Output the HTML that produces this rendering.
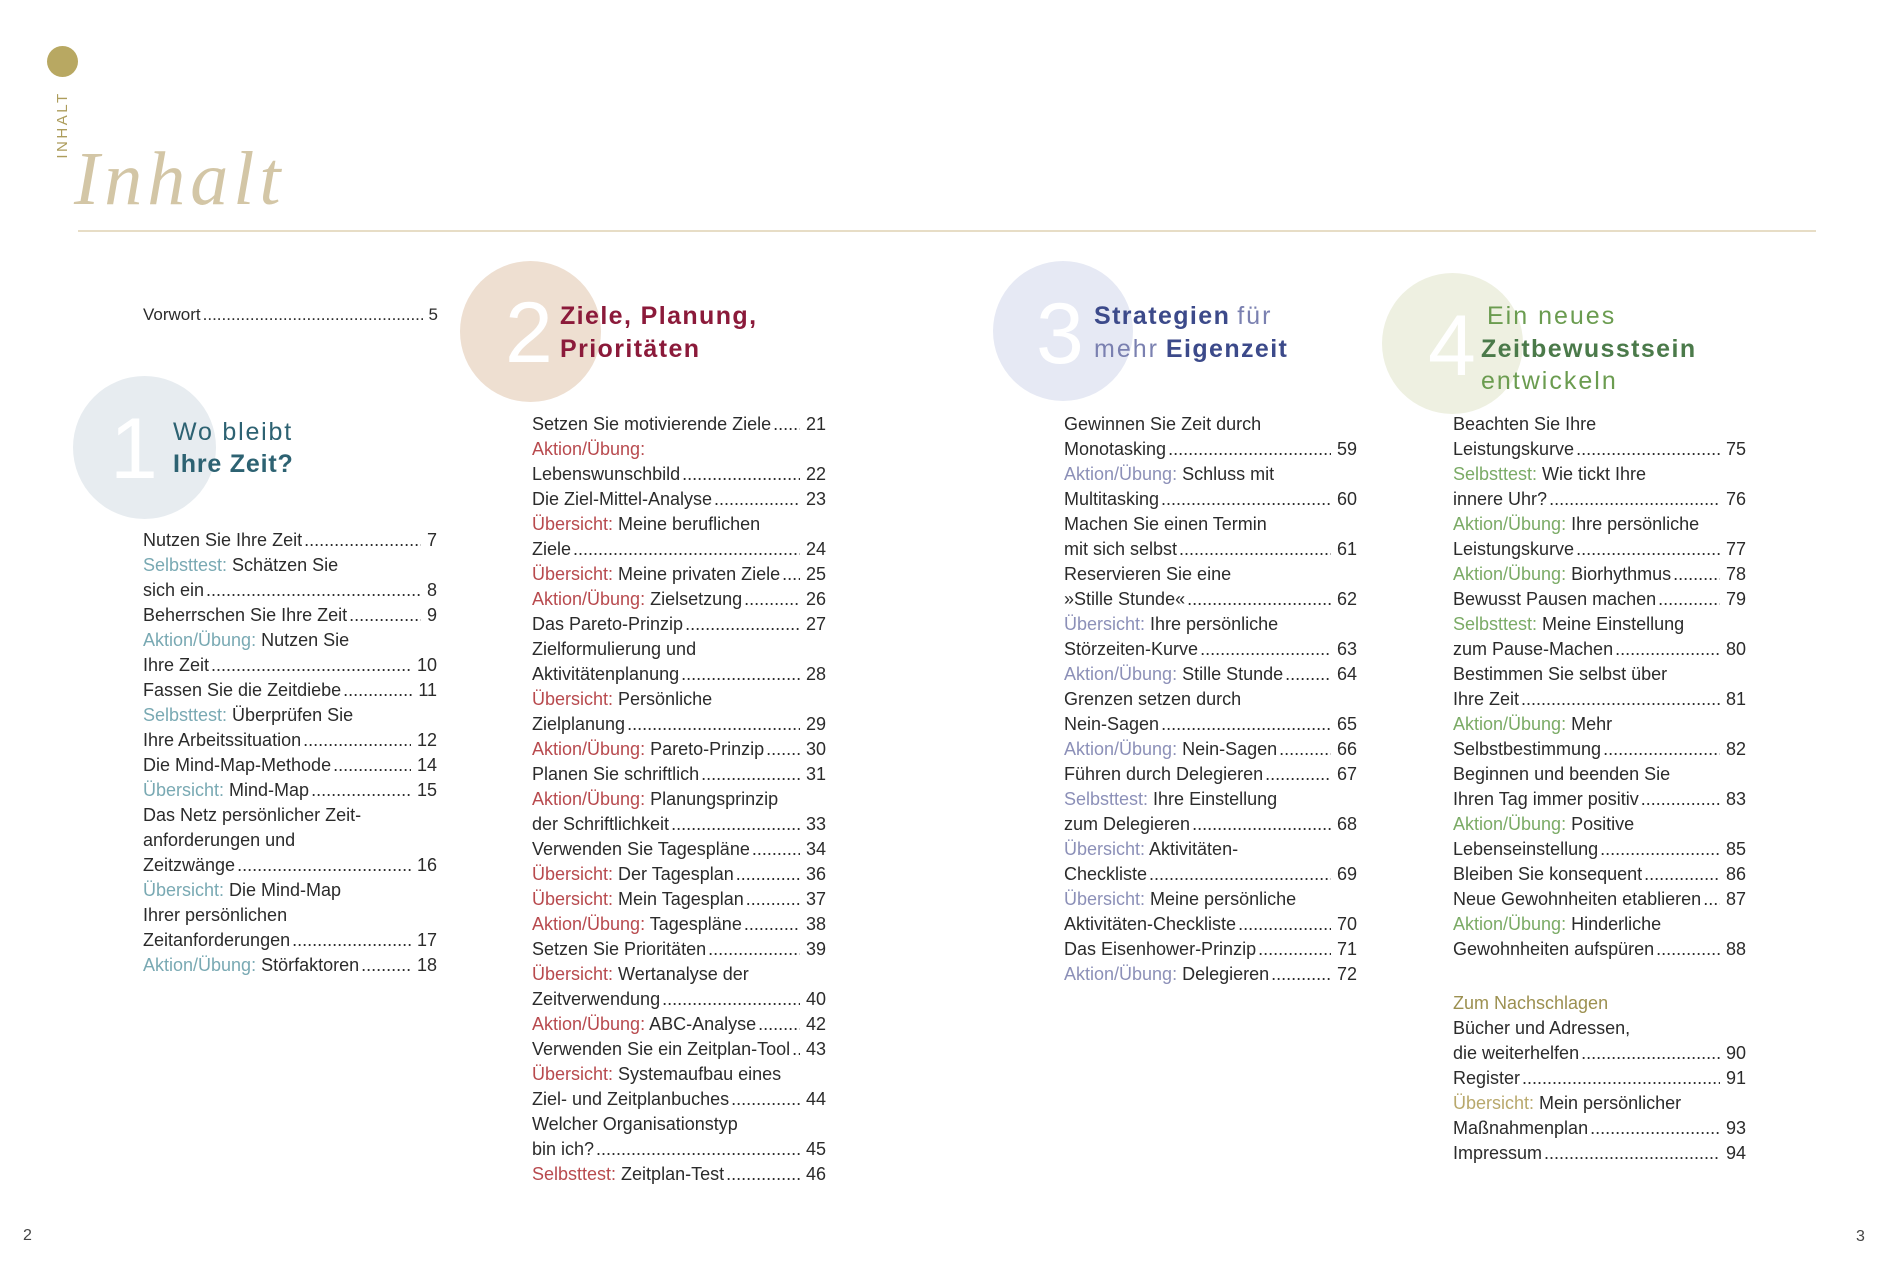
<!DOCTYPE html>
<html><head><meta charset="utf-8">
<style>
html,body{margin:0;padding:0;background:#fff;}
body{width:1889px;height:1269px;position:relative;overflow:hidden;font-family:"Liberation Sans",sans-serif;color:#2b2b2b;}
.abs{position:absolute;}
.circ{position:absolute;border-radius:50%;}
.dig{position:absolute;font-family:"Liberation Sans",sans-serif;font-size:86px;line-height:86px;color:#fff;}
.ttl{position:absolute;font-size:25px;line-height:32.5px;white-space:nowrap;}
.ttl b{font-weight:bold;letter-spacing:1.4px;}
.ttl span.lt{letter-spacing:2px;}
.col{position:absolute;width:294px;font-size:18px;line-height:25px;}
.l{height:25px;display:flex;white-space:nowrap;}
.t{flex:none;}
.d{flex:1 1 auto;overflow:hidden;min-width:0;padding-left:2px;}
.d::after{content:"..................................................................................................";}
.n{flex:none;padding-left:6px;}
.c1{color:#79a9b3;}
.c2{color:#b84a4e;}
.c3{color:#8c90b8;}
.c4{color:#7bab66;}
.c5{color:#b8a86c;}
</style></head><body>

<!-- top decoration -->
<div class="circ" style="left:47px;top:46px;width:31px;height:31px;background:#b8a862;"></div>
<div class="abs" style="left:28px;top:116px;width:70px;height:18px;line-height:18px;font-size:15px;letter-spacing:2.5px;text-align:center;color:#ad9d5c;transform:rotate(-90deg);">INHALT</div>
<div class="abs" style="left:74px;top:141px;font-family:'Liberation Serif',serif;font-style:italic;font-size:76px;line-height:76px;letter-spacing:5px;color:#d3c6a6;">Inhalt</div>
<div class="abs" style="left:78px;top:230px;width:1738px;height:2px;background:#e7ddc6;"></div>

<!-- circles -->
<div class="circ" style="left:73px;top:376px;width:143px;height:143px;background:#e7ecf0;"></div>
<div class="circ" style="left:460px;top:261px;width:141px;height:141px;background:#eedfd1;"></div>
<div class="circ" style="left:993px;top:261px;width:140px;height:140px;background:#e6e9f4;"></div>
<div class="circ" style="left:1382px;top:273px;width:141px;height:141px;background:#eef0e1;"></div>

<div class="dig" style="left:110px;top:406px;">1</div>
<div class="dig" style="left:505px;top:290px;">2</div>
<div class="dig" style="left:1036px;top:291px;">3</div>
<div class="dig" style="left:1428px;top:303px;">4</div>

<!-- titles -->
<div class="ttl" style="left:173px;top:417px;color:#2d6272;line-height:31.5px;">
<span class="lt" style="letter-spacing:1.8px;">Wo bleibt</span><br><b style="letter-spacing:0.8px;">Ihre Zeit?</b></div>
<div class="ttl" style="left:560px;top:300px;color:#8b1a3a;"><b>Ziele, Planung,</b><br><b>Prioritäten</b></div>
<div class="ttl" style="left:1094px;top:300px;color:#3c4a8a;"><b>Strategien</b> <span class="lt" style="color:#7a80b0;">für</span><br><span class="lt" style="color:#7a80b0;">mehr</span> <b>Eigenzeit</b></div>
<div class="ttl" style="left:1481px;top:300px;"><span class="lt" style="color:#6b9c50;padding-left:6px;">Ein neues</span><br><b style="color:#4b7a4a;">Zeitbewusstsein</b><br><span class="lt" style="color:#6b9c50;">entwickeln</span></div>

<!-- Vorwort -->
<div class="col" style="left:143px;top:301.6px;width:295px;font-size:17px;">
<div class="l"><span class="t">Vorwort</span><span class="d"></span><span class="n">5</span></div>
</div>

<!-- column 1 -->
<div class="col" style="left:143px;top:528.3px;">
<div class="l"><span class="t">Nutzen Sie Ihre Zeit</span><span class="d"></span><span class="n">7</span></div>
<div class="l"><span class="t"><span class="c1">Selbsttest:</span> Schätzen Sie</span></div>
<div class="l"><span class="t">sich ein </span><span class="d"></span><span class="n">8</span></div>
<div class="l"><span class="t">Beherrschen Sie Ihre Zeit </span><span class="d"></span><span class="n">9</span></div>
<div class="l"><span class="t"><span class="c1">Aktion/Übung:</span> Nutzen Sie</span></div>
<div class="l"><span class="t">Ihre Zeit </span><span class="d"></span><span class="n">10</span></div>
<div class="l"><span class="t">Fassen Sie die Zeitdiebe</span><span class="d"></span><span class="n">11</span></div>
<div class="l"><span class="t"><span class="c1">Selbsttest:</span> Überprüfen Sie</span></div>
<div class="l"><span class="t">Ihre Arbeitssituation </span><span class="d"></span><span class="n">12</span></div>
<div class="l"><span class="t">Die Mind-Map-Methode </span><span class="d"></span><span class="n">14</span></div>
<div class="l"><span class="t"><span class="c1">Übersicht:</span> Mind-Map </span><span class="d"></span><span class="n">15</span></div>
<div class="l"><span class="t">Das Netz persönlicher Zeit-</span></div>
<div class="l"><span class="t">anforderungen und</span></div>
<div class="l"><span class="t">Zeitzwänge</span><span class="d"></span><span class="n">16</span></div>
<div class="l"><span class="t"><span class="c1">Übersicht:</span> Die Mind-Map</span></div>
<div class="l"><span class="t">Ihrer persönlichen</span></div>
<div class="l"><span class="t">Zeitanforderungen </span><span class="d"></span><span class="n">17</span></div>
<div class="l"><span class="t"><span class="c1">Aktion/Übung:</span> Störfaktoren </span><span class="d"></span><span class="n">18</span></div>
</div>

<!-- column 2 -->
<div class="col" style="left:532px;top:412.3px;">
<div class="l"><span class="t">Setzen Sie motivierende Ziele</span><span class="d"></span><span class="n">21</span></div>
<div class="l"><span class="t"><span class="c2">Aktion/Übung:</span></span></div>
<div class="l"><span class="t">Lebenswunschbild</span><span class="d"></span><span class="n">22</span></div>
<div class="l"><span class="t">Die Ziel-Mittel-Analyse </span><span class="d"></span><span class="n">23</span></div>
<div class="l"><span class="t"><span class="c2">Übersicht:</span> Meine beruflichen</span></div>
<div class="l"><span class="t">Ziele </span><span class="d"></span><span class="n">24</span></div>
<div class="l"><span class="t"><span class="c2">Übersicht:</span> Meine privaten Ziele </span><span class="d"></span><span class="n">25</span></div>
<div class="l"><span class="t"><span class="c2">Aktion/Übung:</span> Zielsetzung</span><span class="d"></span><span class="n">26</span></div>
<div class="l"><span class="t">Das Pareto-Prinzip </span><span class="d"></span><span class="n">27</span></div>
<div class="l"><span class="t">Zielformulierung und</span></div>
<div class="l"><span class="t">Aktivitätenplanung </span><span class="d"></span><span class="n">28</span></div>
<div class="l"><span class="t"><span class="c2">Übersicht:</span> Persönliche</span></div>
<div class="l"><span class="t">Zielplanung</span><span class="d"></span><span class="n">29</span></div>
<div class="l"><span class="t"><span class="c2">Aktion/Übung:</span> Pareto-Prinzip</span><span class="d"></span><span class="n">30</span></div>
<div class="l"><span class="t">Planen Sie schriftlich </span><span class="d"></span><span class="n">31</span></div>
<div class="l"><span class="t"><span class="c2">Aktion/Übung:</span> Planungsprinzip</span></div>
<div class="l"><span class="t">der Schriftlichkeit </span><span class="d"></span><span class="n">33</span></div>
<div class="l"><span class="t">Verwenden Sie Tagespläne</span><span class="d"></span><span class="n">34</span></div>
<div class="l"><span class="t"><span class="c2">Übersicht:</span> Der Tagesplan</span><span class="d"></span><span class="n">36</span></div>
<div class="l"><span class="t"><span class="c2">Übersicht:</span> Mein Tagesplan </span><span class="d"></span><span class="n">37</span></div>
<div class="l"><span class="t"><span class="c2">Aktion/Übung:</span> Tagespläne </span><span class="d"></span><span class="n">38</span></div>
<div class="l"><span class="t">Setzen Sie Prioritäten</span><span class="d"></span><span class="n">39</span></div>
<div class="l"><span class="t"><span class="c2">Übersicht:</span> Wertanalyse der</span></div>
<div class="l"><span class="t">Zeitverwendung</span><span class="d"></span><span class="n">40</span></div>
<div class="l"><span class="t"><span class="c2">Aktion/Übung:</span> ABC-Analyse </span><span class="d"></span><span class="n">42</span></div>
<div class="l"><span class="t">Verwenden Sie ein Zeitplan-Tool</span><span class="d"></span><span class="n">43</span></div>
<div class="l"><span class="t"><span class="c2">Übersicht:</span> Systemaufbau eines</span></div>
<div class="l"><span class="t">Ziel- und Zeitplanbuches </span><span class="d"></span><span class="n">44</span></div>
<div class="l"><span class="t">Welcher Organisationstyp</span></div>
<div class="l"><span class="t">bin ich?</span><span class="d"></span><span class="n">45</span></div>
<div class="l"><span class="t"><span class="c2">Selbsttest:</span> Zeitplan-Test</span><span class="d"></span><span class="n">46</span></div>
</div>

<!-- column 3 -->
<div class="col" style="left:1064px;top:412.3px;width:293px;">
<div class="l"><span class="t">Gewinnen Sie Zeit durch</span></div>
<div class="l"><span class="t">Monotasking </span><span class="d"></span><span class="n">59</span></div>
<div class="l"><span class="t"><span class="c3">Aktion/Übung:</span> Schluss mit</span></div>
<div class="l"><span class="t">Multitasking </span><span class="d"></span><span class="n">60</span></div>
<div class="l"><span class="t">Machen Sie einen Termin</span></div>
<div class="l"><span class="t">mit sich selbst </span><span class="d"></span><span class="n">61</span></div>
<div class="l"><span class="t">Reservieren Sie eine</span></div>
<div class="l"><span class="t">»Stille Stunde« </span><span class="d"></span><span class="n">62</span></div>
<div class="l"><span class="t"><span class="c3">Übersicht:</span> Ihre persönliche</span></div>
<div class="l"><span class="t">Störzeiten-Kurve</span><span class="d"></span><span class="n">63</span></div>
<div class="l"><span class="t"><span class="c3">Aktion/Übung:</span> Stille Stunde </span><span class="d"></span><span class="n">64</span></div>
<div class="l"><span class="t">Grenzen setzen durch</span></div>
<div class="l"><span class="t">Nein-Sagen</span><span class="d"></span><span class="n">65</span></div>
<div class="l"><span class="t"><span class="c3">Aktion/Übung:</span> Nein-Sagen</span><span class="d"></span><span class="n">66</span></div>
<div class="l"><span class="t">Führen durch Delegieren </span><span class="d"></span><span class="n">67</span></div>
<div class="l"><span class="t"><span class="c3">Selbsttest:</span> Ihre Einstellung</span></div>
<div class="l"><span class="t">zum Delegieren</span><span class="d"></span><span class="n">68</span></div>
<div class="l"><span class="t"><span class="c3">Übersicht:</span> Aktivitäten-</span></div>
<div class="l"><span class="t">Checkliste </span><span class="d"></span><span class="n">69</span></div>
<div class="l"><span class="t"><span class="c3">Übersicht:</span> Meine persönliche</span></div>
<div class="l"><span class="t">Aktivitäten-Checkliste </span><span class="d"></span><span class="n">70</span></div>
<div class="l"><span class="t">Das Eisenhower-Prinzip</span><span class="d"></span><span class="n">71</span></div>
<div class="l"><span class="t"><span class="c3">Aktion/Übung:</span> Delegieren</span><span class="d"></span><span class="n">72</span></div>
</div>

<!-- column 4 -->
<div class="col" style="left:1453px;top:412px;width:293px;line-height:25.1px;">
<div class="l"><span class="t">Beachten Sie Ihre</span></div>
<div class="l"><span class="t">Leistungskurve </span><span class="d"></span><span class="n">75</span></div>
<div class="l"><span class="t"><span class="c4">Selbsttest:</span> Wie tickt Ihre</span></div>
<div class="l"><span class="t">innere Uhr? </span><span class="d"></span><span class="n">76</span></div>
<div class="l"><span class="t"><span class="c4">Aktion/Übung:</span> Ihre persönliche</span></div>
<div class="l"><span class="t">Leistungskurve </span><span class="d"></span><span class="n">77</span></div>
<div class="l"><span class="t"><span class="c4">Aktion/Übung:</span> Biorhythmus</span><span class="d"></span><span class="n">78</span></div>
<div class="l"><span class="t">Bewusst Pausen machen</span><span class="d"></span><span class="n">79</span></div>
<div class="l"><span class="t"><span class="c4">Selbsttest:</span> Meine Einstellung</span></div>
<div class="l"><span class="t">zum Pause-Machen</span><span class="d"></span><span class="n">80</span></div>
<div class="l"><span class="t">Bestimmen Sie selbst über</span></div>
<div class="l"><span class="t">Ihre Zeit </span><span class="d"></span><span class="n">81</span></div>
<div class="l"><span class="t"><span class="c4">Aktion/Übung:</span> Mehr</span></div>
<div class="l"><span class="t">Selbstbestimmung</span><span class="d"></span><span class="n">82</span></div>
<div class="l"><span class="t">Beginnen und beenden Sie</span></div>
<div class="l"><span class="t">Ihren Tag immer positiv </span><span class="d"></span><span class="n">83</span></div>
<div class="l"><span class="t"><span class="c4">Aktion/Übung:</span> Positive</span></div>
<div class="l"><span class="t">Lebenseinstellung </span><span class="d"></span><span class="n">85</span></div>
<div class="l"><span class="t">Bleiben Sie konsequent</span><span class="d"></span><span class="n">86</span></div>
<div class="l"><span class="t">Neue Gewohnheiten etablieren</span><span class="d"></span><span class="n">87</span></div>
<div class="l"><span class="t"><span class="c4">Aktion/Übung:</span> Hinderliche</span></div>
<div class="l"><span class="t">Gewohnheiten aufspüren </span><span class="d"></span><span class="n">88</span></div>
<div class="l" style="height:28.5px;"></div>
<div class="l"><span class="t" style="color:#9c9050;">Zum Nachschlagen</span></div>
<div class="l"><span class="t">Bücher und Adressen,</span></div>
<div class="l"><span class="t">die weiterhelfen</span><span class="d"></span><span class="n">90</span></div>
<div class="l"><span class="t">Register </span><span class="d"></span><span class="n">91</span></div>
<div class="l"><span class="t"><span class="c5">Übersicht:</span> Mein persönlicher</span></div>
<div class="l"><span class="t">Maßnahmenplan </span><span class="d"></span><span class="n">93</span></div>
<div class="l"><span class="t">Impressum </span><span class="d"></span><span class="n">94</span></div>
</div>

<!-- page numbers -->
<div class="abs" style="left:23px;top:1227px;font-size:16px;line-height:18px;color:#444;">2</div>
<div class="abs" style="left:1856px;top:1228px;font-size:16px;line-height:18px;color:#444;">3</div>

</body></html>
